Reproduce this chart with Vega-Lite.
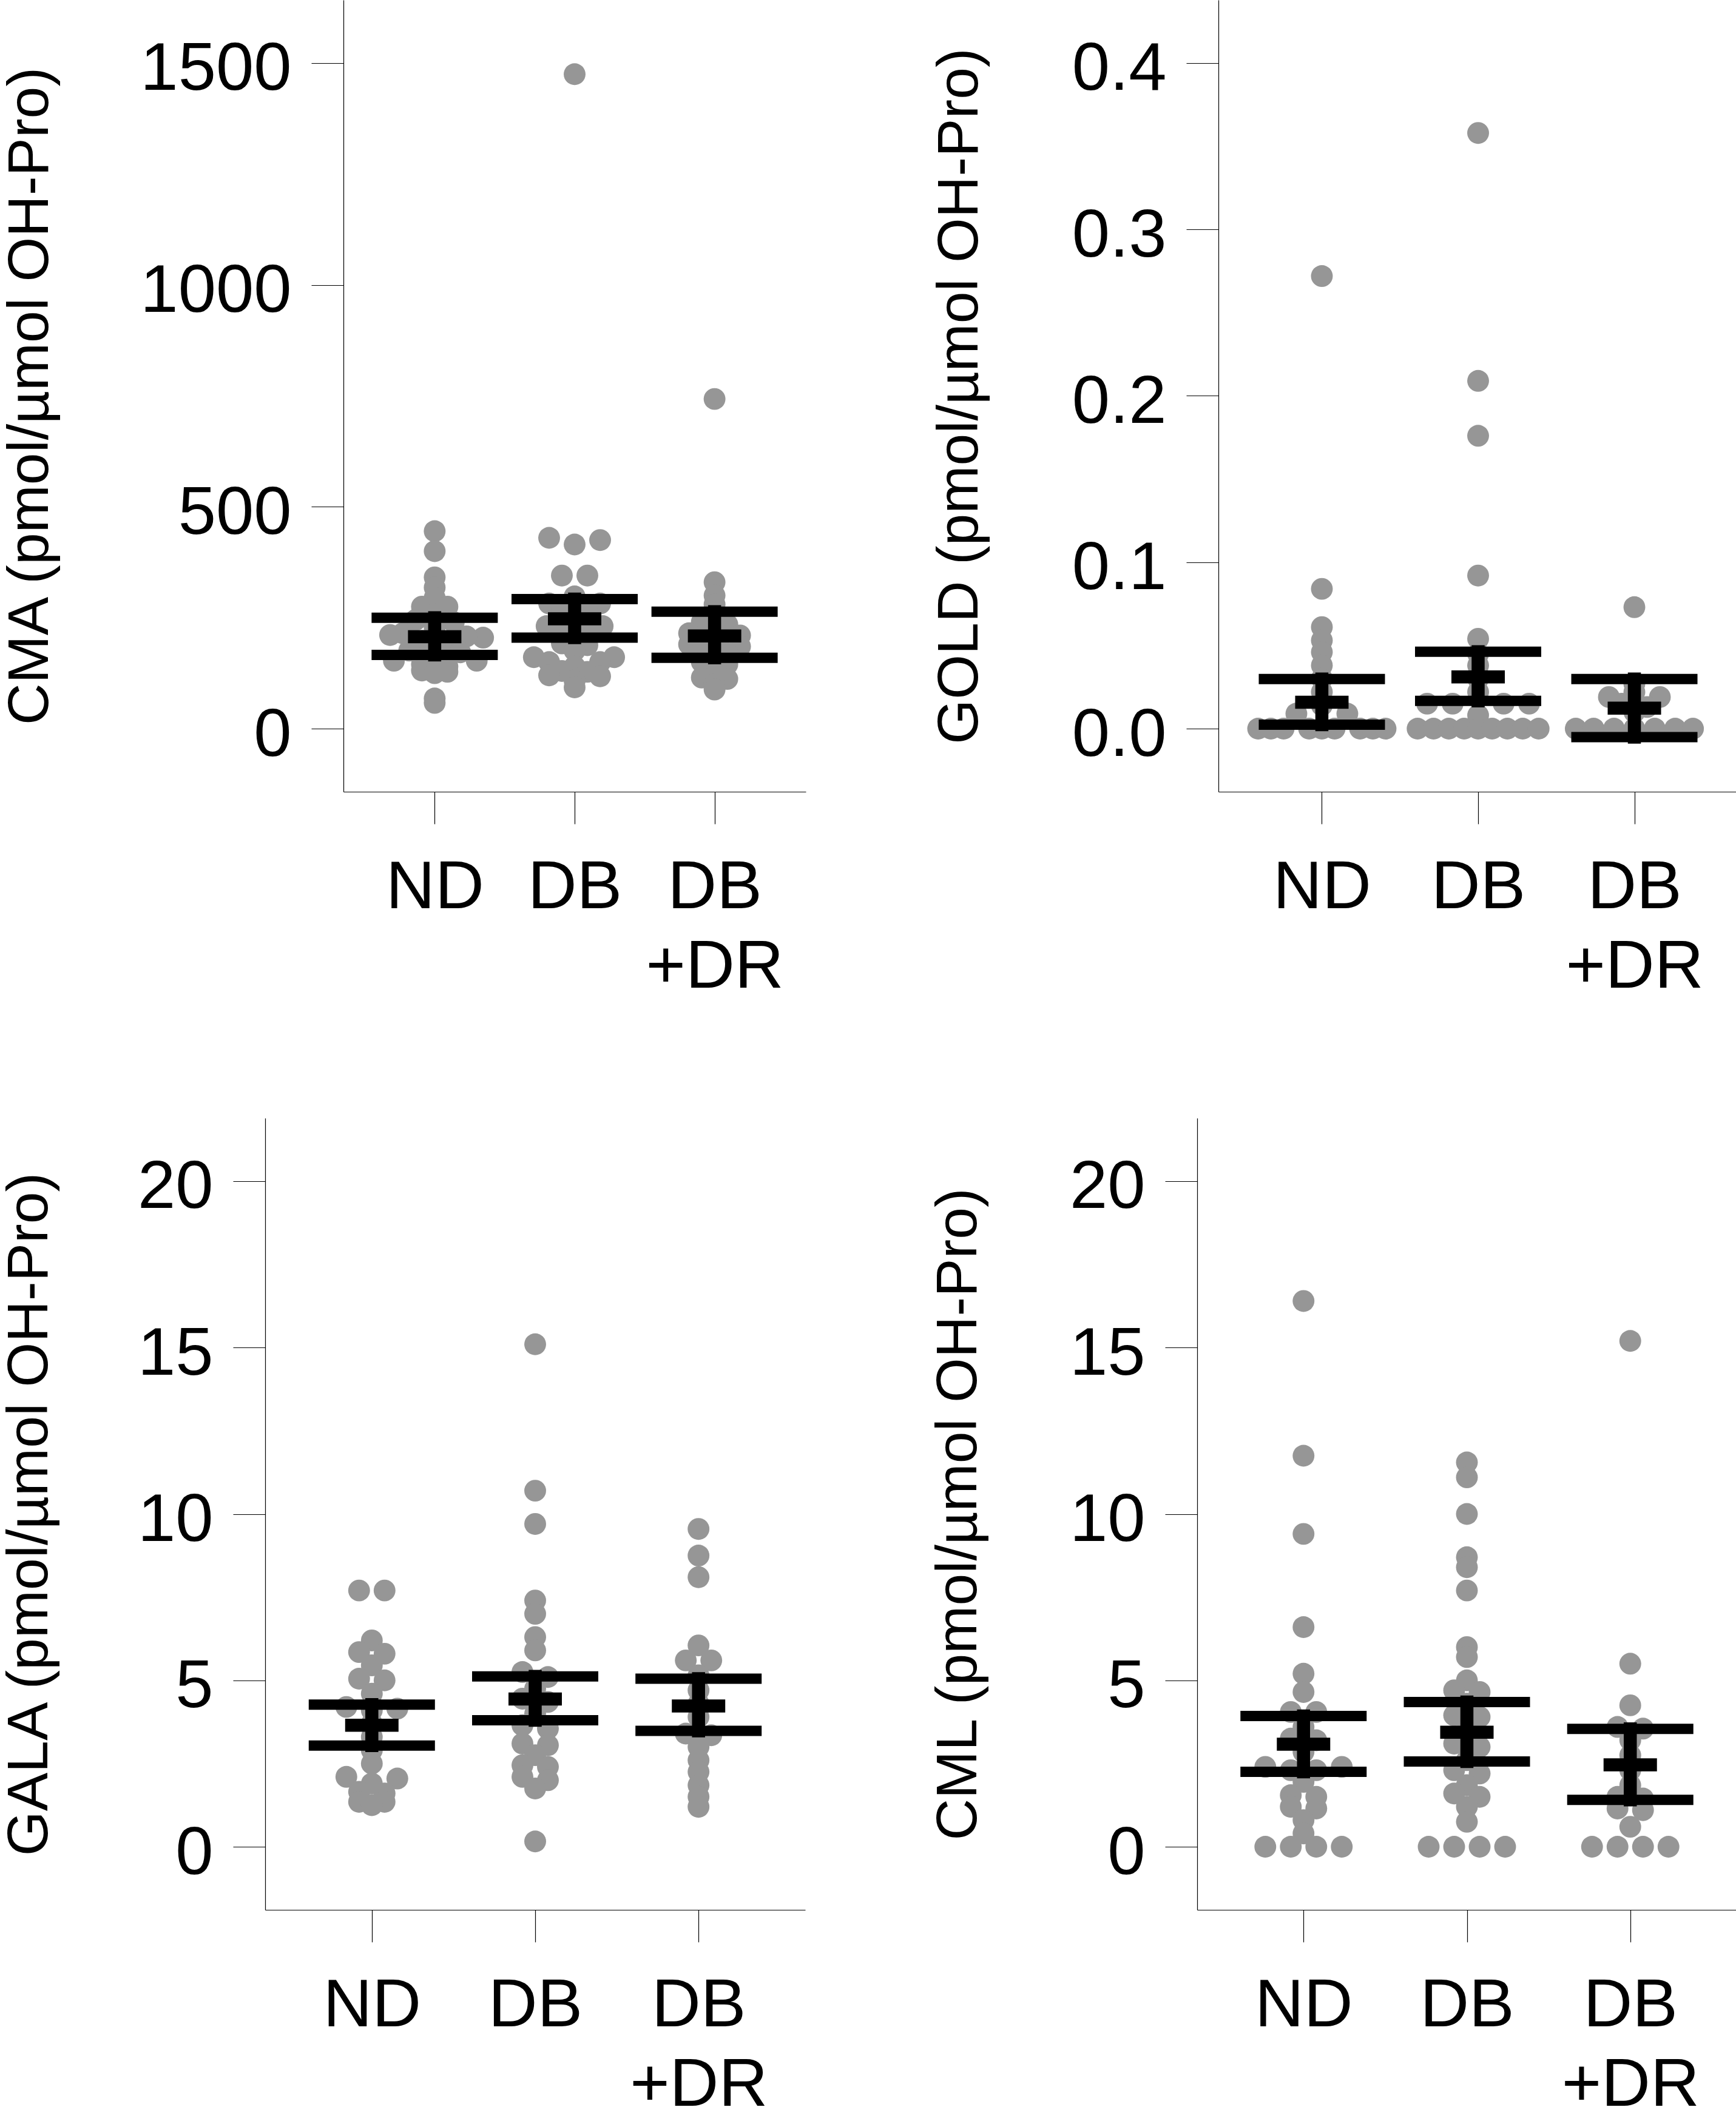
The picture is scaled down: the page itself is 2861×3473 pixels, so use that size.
{
  "$schema": "https://vega.github.io/schema/vega-lite/v6.json",
  "padding": 0,
  "background": "white",
  "config": {
    "font": "Liberation Sans",
    "view": {"stroke": null},
    "axis": {
      "grid": false,
      "domainColor": "black", "domainWidth": 1.2,
      "tickColor": "black", "tickWidth": 1.2, "tickSize": 53,
      "labelFont": "Liberation Sans", "labelFontSize": 112, "labelColor": "black",
      "labelLimit": 2000, "labelOverlap": false, "labelFlush": false, "labelBound": false,
      "titleFont": "Liberation Sans", "titleFontSize": 95, "titleFontWeight": "normal", "titleColor": "black", "titleLimit": 3000
    },
    "axisX": {"labelPadding": 50, "labelLineHeight": 131, "labelAngle": 0},
    "axisY": {"labelPadding": 33, "labelOffset": 10, "titleAngle": -90, "titleBaseline": "bottom", "titleAlign": "center", "titleY": 652.5}
  },
  "datasets": {
    "pts": [
      {"panel":"CMA","group":"ND","value":445,"slot":0},{"panel":"CMA","group":"ND","value":400,"slot":0},{"panel":"CMA","group":"ND","value":341,"slot":0},{"panel":"CMA","group":"ND","value":318,"slot":0},{"panel":"CMA","group":"ND","value":295,"slot":0},{"panel":"CMA","group":"ND","value":275,"slot":-1},{"panel":"CMA","group":"ND","value":275,"slot":1},{"panel":"CMA","group":"ND","value":258,"slot":0},{"panel":"CMA","group":"ND","value":245,"slot":-1.5},{"panel":"CMA","group":"ND","value":240,"slot":1.5},{"panel":"CMA","group":"ND","value":228,"slot":0},{"panel":"CMA","group":"ND","value":215,"slot":-2.5},{"panel":"CMA","group":"ND","value":211,"slot":-3.5},{"panel":"CMA","group":"ND","value":205,"slot":3.8},{"panel":"CMA","group":"ND","value":208,"slot":2.5},{"panel":"CMA","group":"ND","value":198,"slot":-1},{"panel":"CMA","group":"ND","value":195,"slot":1},{"panel":"CMA","group":"ND","value":185,"slot":0},{"panel":"CMA","group":"ND","value":176,"slot":-2},{"panel":"CMA","group":"ND","value":172,"slot":2},{"panel":"CMA","group":"ND","value":162,"slot":0},{"panel":"CMA","group":"ND","value":153,"slot":-3.2},{"panel":"CMA","group":"ND","value":153,"slot":3.3},{"panel":"CMA","group":"ND","value":145,"slot":-1},{"panel":"CMA","group":"ND","value":140,"slot":1},{"panel":"CMA","group":"ND","value":131,"slot":-1},{"panel":"CMA","group":"ND","value":128,"slot":1},{"panel":"CMA","group":"ND","value":125,"slot":0},{"panel":"CMA","group":"ND","value":68,"slot":0},{"panel":"CMA","group":"ND","value":58,"slot":0},
      {"panel":"CMA","group":"DB","value":1475,"slot":0},{"panel":"CMA","group":"DB","value":430,"slot":-2},{"panel":"CMA","group":"DB","value":425,"slot":2},{"panel":"CMA","group":"DB","value":415,"slot":0},{"panel":"CMA","group":"DB","value":345,"slot":-1},{"panel":"CMA","group":"DB","value":345,"slot":1},{"panel":"CMA","group":"DB","value":298,"slot":0},{"panel":"CMA","group":"DB","value":282,"slot":-2},{"panel":"CMA","group":"DB","value":282,"slot":2},{"panel":"CMA","group":"DB","value":265,"slot":-1},{"panel":"CMA","group":"DB","value":262,"slot":1},{"panel":"CMA","group":"DB","value":248,"slot":0},{"panel":"CMA","group":"DB","value":231,"slot":-2.2},{"panel":"CMA","group":"DB","value":231,"slot":2.2},{"panel":"CMA","group":"DB","value":222,"slot":-1},{"panel":"CMA","group":"DB","value":218,"slot":1},{"panel":"CMA","group":"DB","value":205,"slot":0},{"panel":"CMA","group":"DB","value":192,"slot":-1},{"panel":"CMA","group":"DB","value":188,"slot":1},{"panel":"CMA","group":"DB","value":176,"slot":0},{"panel":"CMA","group":"DB","value":161,"slot":-3.2},{"panel":"CMA","group":"DB","value":161,"slot":3.1},{"panel":"CMA","group":"DB","value":150,"slot":-2},{"panel":"CMA","group":"DB","value":150,"slot":2},{"panel":"CMA","group":"DB","value":140,"slot":0},{"panel":"CMA","group":"DB","value":130,"slot":-1},{"panel":"CMA","group":"DB","value":128,"slot":1},{"panel":"CMA","group":"DB","value":120,"slot":-2},{"panel":"CMA","group":"DB","value":118,"slot":2},{"panel":"CMA","group":"DB","value":108,"slot":0},{"panel":"CMA","group":"DB","value":93,"slot":0},
      {"panel":"CMA","group":"DB+DR","value":743,"slot":0},{"panel":"CMA","group":"DB+DR","value":330,"slot":0},{"panel":"CMA","group":"DB+DR","value":300,"slot":0},{"panel":"CMA","group":"DB+DR","value":280,"slot":0},{"panel":"CMA","group":"DB+DR","value":262,"slot":0},{"panel":"CMA","group":"DB+DR","value":240,"slot":-1},{"panel":"CMA","group":"DB+DR","value":235,"slot":1},{"panel":"CMA","group":"DB+DR","value":215,"slot":-2},{"panel":"CMA","group":"DB+DR","value":210,"slot":2},{"panel":"CMA","group":"DB+DR","value":200,"slot":0},{"panel":"CMA","group":"DB+DR","value":190,"slot":-2},{"panel":"CMA","group":"DB+DR","value":185,"slot":2},{"panel":"CMA","group":"DB+DR","value":175,"slot":-1},{"panel":"CMA","group":"DB+DR","value":170,"slot":1},{"panel":"CMA","group":"DB+DR","value":160,"slot":0},{"panel":"CMA","group":"DB+DR","value":150,"slot":-1},{"panel":"CMA","group":"DB+DR","value":145,"slot":1},{"panel":"CMA","group":"DB+DR","value":130,"slot":0},{"panel":"CMA","group":"DB+DR","value":115,"slot":-1},{"panel":"CMA","group":"DB+DR","value":112,"slot":1},{"panel":"CMA","group":"DB+DR","value":100,"slot":0},{"panel":"CMA","group":"DB+DR","value":88,"slot":0},
      {"panel":"GOLD","group":"ND","value":0.272,"slot":0},{"panel":"GOLD","group":"ND","value":0.084,"slot":0},{"panel":"GOLD","group":"ND","value":0.061,"slot":0},{"panel":"GOLD","group":"ND","value":0.053,"slot":0},{"panel":"GOLD","group":"ND","value":0.046,"slot":0},{"panel":"GOLD","group":"ND","value":0.038,"slot":0},{"panel":"GOLD","group":"ND","value":0.030,"slot":0},{"panel":"GOLD","group":"ND","value":0.022,"slot":0},{"panel":"GOLD","group":"ND","value":0.014,"slot":0},{"panel":"GOLD","group":"ND","value":0.009,"slot":-2},{"panel":"GOLD","group":"ND","value":0.009,"slot":2},{"panel":"GOLD","group":"ND","value":0,"slot":-5},{"panel":"GOLD","group":"ND","value":0,"slot":-4},{"panel":"GOLD","group":"ND","value":0,"slot":-3},{"panel":"GOLD","group":"ND","value":0,"slot":-1},{"panel":"GOLD","group":"ND","value":0,"slot":0},{"panel":"GOLD","group":"ND","value":0,"slot":1},{"panel":"GOLD","group":"ND","value":0,"slot":3},{"panel":"GOLD","group":"ND","value":0,"slot":4},{"panel":"GOLD","group":"ND","value":0,"slot":5},
      {"panel":"GOLD","group":"DB","value":0.358,"slot":0},{"panel":"GOLD","group":"DB","value":0.209,"slot":0},{"panel":"GOLD","group":"DB","value":0.176,"slot":0},{"panel":"GOLD","group":"DB","value":0.092,"slot":0},{"panel":"GOLD","group":"DB","value":0.054,"slot":0},{"panel":"GOLD","group":"DB","value":0.045,"slot":0},{"panel":"GOLD","group":"DB","value":0.038,"slot":0},{"panel":"GOLD","group":"DB","value":0.030,"slot":0},{"panel":"GOLD","group":"DB","value":0.022,"slot":0},{"panel":"GOLD","group":"DB","value":0.015,"slot":-4},{"panel":"GOLD","group":"DB","value":0.015,"slot":-2},{"panel":"GOLD","group":"DB","value":0.015,"slot":2},{"panel":"GOLD","group":"DB","value":0.015,"slot":4},{"panel":"GOLD","group":"DB","value":0.008,"slot":0},{"panel":"GOLD","group":"DB","value":0,"slot":-4.75},{"panel":"GOLD","group":"DB","value":0,"slot":-3.5},{"panel":"GOLD","group":"DB","value":0,"slot":-2.3},{"panel":"GOLD","group":"DB","value":0,"slot":-1.1},{"panel":"GOLD","group":"DB","value":0,"slot":0},{"panel":"GOLD","group":"DB","value":0,"slot":1.1},{"panel":"GOLD","group":"DB","value":0,"slot":2.3},{"panel":"GOLD","group":"DB","value":0,"slot":3.5},{"panel":"GOLD","group":"DB","value":0,"slot":4.75},
      {"panel":"GOLD","group":"DB+DR","value":0.073,"slot":0},{"panel":"GOLD","group":"DB+DR","value":0.027,"slot":0},{"panel":"GOLD","group":"DB+DR","value":0.022,"slot":0},{"panel":"GOLD","group":"DB+DR","value":0.019,"slot":-2},{"panel":"GOLD","group":"DB+DR","value":0.019,"slot":2},{"panel":"GOLD","group":"DB+DR","value":0.015,"slot":-1},{"panel":"GOLD","group":"DB+DR","value":0.013,"slot":1},{"panel":"GOLD","group":"DB+DR","value":0.010,"slot":0},{"panel":"GOLD","group":"DB+DR","value":0,"slot":-4.6},{"panel":"GOLD","group":"DB+DR","value":0,"slot":-3.2},{"panel":"GOLD","group":"DB+DR","value":0,"slot":-1.6},{"panel":"GOLD","group":"DB+DR","value":0,"slot":0},{"panel":"GOLD","group":"DB+DR","value":0,"slot":1.6},{"panel":"GOLD","group":"DB+DR","value":0,"slot":3.2},{"panel":"GOLD","group":"DB+DR","value":0,"slot":4.6},
      {"panel":"GALA","group":"ND","value":7.7,"slot":-1},{"panel":"GALA","group":"ND","value":7.7,"slot":1},{"panel":"GALA","group":"ND","value":6.2,"slot":0},{"panel":"GALA","group":"ND","value":5.85,"slot":-1},{"panel":"GALA","group":"ND","value":5.8,"slot":1},{"panel":"GALA","group":"ND","value":5.45,"slot":0},{"panel":"GALA","group":"ND","value":5.05,"slot":-1},{"panel":"GALA","group":"ND","value":5.0,"slot":1},{"panel":"GALA","group":"ND","value":4.6,"slot":0},{"panel":"GALA","group":"ND","value":4.2,"slot":-2},{"panel":"GALA","group":"ND","value":4.15,"slot":2},{"panel":"GALA","group":"ND","value":4.1,"slot":0},{"panel":"GALA","group":"ND","value":3.7,"slot":0},{"panel":"GALA","group":"ND","value":3.3,"slot":0},{"panel":"GALA","group":"ND","value":2.9,"slot":0},{"panel":"GALA","group":"ND","value":2.5,"slot":0},{"panel":"GALA","group":"ND","value":2.1,"slot":-2},{"panel":"GALA","group":"ND","value":2.05,"slot":2},{"panel":"GALA","group":"ND","value":1.9,"slot":0},{"panel":"GALA","group":"ND","value":1.65,"slot":-1},{"panel":"GALA","group":"ND","value":1.6,"slot":1},{"panel":"GALA","group":"ND","value":1.35,"slot":-1},{"panel":"GALA","group":"ND","value":1.35,"slot":1},{"panel":"GALA","group":"ND","value":1.25,"slot":0},
      {"panel":"GALA","group":"DB","value":15.1,"slot":0},{"panel":"GALA","group":"DB","value":10.7,"slot":0},{"panel":"GALA","group":"DB","value":9.7,"slot":0},{"panel":"GALA","group":"DB","value":7.4,"slot":0},{"panel":"GALA","group":"DB","value":7.0,"slot":0},{"panel":"GALA","group":"DB","value":6.3,"slot":0},{"panel":"GALA","group":"DB","value":5.9,"slot":0},{"panel":"GALA","group":"DB","value":5.25,"slot":-1},{"panel":"GALA","group":"DB","value":5.1,"slot":1},{"panel":"GALA","group":"DB","value":4.75,"slot":0},{"panel":"GALA","group":"DB","value":4.45,"slot":-1},{"panel":"GALA","group":"DB","value":4.35,"slot":1},{"panel":"GALA","group":"DB","value":4.0,"slot":0},{"panel":"GALA","group":"DB","value":3.65,"slot":-1},{"panel":"GALA","group":"DB","value":3.55,"slot":1},{"panel":"GALA","group":"DB","value":3.1,"slot":-1},{"panel":"GALA","group":"DB","value":3.05,"slot":1},{"panel":"GALA","group":"DB","value":2.75,"slot":0},{"panel":"GALA","group":"DB","value":2.45,"slot":-1},{"panel":"GALA","group":"DB","value":2.4,"slot":1},{"panel":"GALA","group":"DB","value":2.1,"slot":-1},{"panel":"GALA","group":"DB","value":2.0,"slot":1},{"panel":"GALA","group":"DB","value":1.75,"slot":0},{"panel":"GALA","group":"DB","value":0.16,"slot":0},
      {"panel":"GALA","group":"DB+DR","value":9.55,"slot":0},{"panel":"GALA","group":"DB+DR","value":8.75,"slot":0},{"panel":"GALA","group":"DB+DR","value":8.1,"slot":0},{"panel":"GALA","group":"DB+DR","value":6.05,"slot":0},{"panel":"GALA","group":"DB+DR","value":5.6,"slot":-1},{"panel":"GALA","group":"DB+DR","value":5.6,"slot":1},{"panel":"GALA","group":"DB+DR","value":5.15,"slot":0},{"panel":"GALA","group":"DB+DR","value":4.7,"slot":0},{"panel":"GALA","group":"DB+DR","value":4.3,"slot":0},{"panel":"GALA","group":"DB+DR","value":3.9,"slot":0},{"panel":"GALA","group":"DB+DR","value":3.4,"slot":-1},{"panel":"GALA","group":"DB+DR","value":3.35,"slot":1},{"panel":"GALA","group":"DB+DR","value":3.0,"slot":0},{"panel":"GALA","group":"DB+DR","value":2.6,"slot":0},{"panel":"GALA","group":"DB+DR","value":2.25,"slot":0},{"panel":"GALA","group":"DB+DR","value":1.85,"slot":0},{"panel":"GALA","group":"DB+DR","value":1.5,"slot":0},{"panel":"GALA","group":"DB+DR","value":1.2,"slot":0},
      {"panel":"CML","group":"ND","value":16.4,"slot":0},{"panel":"CML","group":"ND","value":11.75,"slot":0},{"panel":"CML","group":"ND","value":9.4,"slot":0},{"panel":"CML","group":"ND","value":6.6,"slot":0},{"panel":"CML","group":"ND","value":5.2,"slot":0},{"panel":"CML","group":"ND","value":4.65,"slot":0},{"panel":"CML","group":"ND","value":4.05,"slot":-1},{"panel":"CML","group":"ND","value":4.05,"slot":1},{"panel":"CML","group":"ND","value":3.6,"slot":0},{"panel":"CML","group":"ND","value":3.25,"slot":-1},{"panel":"CML","group":"ND","value":3.2,"slot":1},{"panel":"CML","group":"ND","value":2.85,"slot":0},{"panel":"CML","group":"ND","value":2.4,"slot":-3},{"panel":"CML","group":"ND","value":2.4,"slot":3},{"panel":"CML","group":"ND","value":2.3,"slot":-1},{"panel":"CML","group":"ND","value":2.3,"slot":1},{"panel":"CML","group":"ND","value":1.95,"slot":0},{"panel":"CML","group":"ND","value":1.55,"slot":-1},{"panel":"CML","group":"ND","value":1.5,"slot":1},{"panel":"CML","group":"ND","value":1.2,"slot":-1},{"panel":"CML","group":"ND","value":1.15,"slot":1},{"panel":"CML","group":"ND","value":0.8,"slot":0},{"panel":"CML","group":"ND","value":0.4,"slot":0},{"panel":"CML","group":"ND","value":0,"slot":-3},{"panel":"CML","group":"ND","value":0,"slot":-1},{"panel":"CML","group":"ND","value":0,"slot":1},{"panel":"CML","group":"ND","value":0,"slot":3},
      {"panel":"CML","group":"DB","value":11.55,"slot":0},{"panel":"CML","group":"DB","value":11.1,"slot":0},{"panel":"CML","group":"DB","value":10.0,"slot":0},{"panel":"CML","group":"DB","value":8.7,"slot":0},{"panel":"CML","group":"DB","value":8.4,"slot":0},{"panel":"CML","group":"DB","value":7.7,"slot":0},{"panel":"CML","group":"DB","value":6.0,"slot":0},{"panel":"CML","group":"DB","value":5.7,"slot":0},{"panel":"CML","group":"DB","value":5.0,"slot":0},{"panel":"CML","group":"DB","value":4.7,"slot":-1},{"panel":"CML","group":"DB","value":4.65,"slot":1},{"panel":"CML","group":"DB","value":4.3,"slot":0},{"panel":"CML","group":"DB","value":3.95,"slot":-1},{"panel":"CML","group":"DB","value":3.9,"slot":1},{"panel":"CML","group":"DB","value":3.5,"slot":0},{"panel":"CML","group":"DB","value":3.1,"slot":-1},{"panel":"CML","group":"DB","value":3.0,"slot":1},{"panel":"CML","group":"DB","value":2.6,"slot":0},{"panel":"CML","group":"DB","value":2.3,"slot":-1},{"panel":"CML","group":"DB","value":2.2,"slot":1},{"panel":"CML","group":"DB","value":1.85,"slot":0},{"panel":"CML","group":"DB","value":1.6,"slot":-1},{"panel":"CML","group":"DB","value":1.5,"slot":1},{"panel":"CML","group":"DB","value":1.2,"slot":0},{"panel":"CML","group":"DB","value":0.75,"slot":0},{"panel":"CML","group":"DB","value":0,"slot":-3},{"panel":"CML","group":"DB","value":0,"slot":-1},{"panel":"CML","group":"DB","value":0,"slot":1},{"panel":"CML","group":"DB","value":0,"slot":3},
      {"panel":"CML","group":"DB+DR","value":15.2,"slot":0},{"panel":"CML","group":"DB+DR","value":5.5,"slot":0},{"panel":"CML","group":"DB+DR","value":4.25,"slot":0},{"panel":"CML","group":"DB+DR","value":3.6,"slot":-1},{"panel":"CML","group":"DB+DR","value":3.55,"slot":1},{"panel":"CML","group":"DB+DR","value":3.2,"slot":0},{"panel":"CML","group":"DB+DR","value":2.75,"slot":0},{"panel":"CML","group":"DB+DR","value":2.3,"slot":0},{"panel":"CML","group":"DB+DR","value":1.85,"slot":0},{"panel":"CML","group":"DB+DR","value":1.5,"slot":-1},{"panel":"CML","group":"DB+DR","value":1.45,"slot":1},{"panel":"CML","group":"DB+DR","value":1.15,"slot":-1},{"panel":"CML","group":"DB+DR","value":1.1,"slot":1},{"panel":"CML","group":"DB+DR","value":0.6,"slot":0},{"panel":"CML","group":"DB+DR","value":0,"slot":-3},{"panel":"CML","group":"DB+DR","value":0,"slot":-1},{"panel":"CML","group":"DB+DR","value":0,"slot":1},{"panel":"CML","group":"DB+DR","value":0,"slot":3}
    ],
    "bars": [
      {"panel":"CMA","group":"ND","lower":166,"mean":207,"upper":250},
      {"panel":"CMA","group":"DB","lower":205,"mean":247.5,"upper":292},
      {"panel":"CMA","group":"DB+DR","lower":159.5,"mean":209,"upper":263.5},
      {"panel":"GOLD","group":"ND","lower":0.0024,"mean":0.0159,"upper":0.0298},
      {"panel":"GOLD","group":"DB","lower":0.0167,"mean":0.0311,"upper":0.0462},
      {"panel":"GOLD","group":"DB+DR","lower":-0.0051,"mean":0.0123,"upper":0.0298},
      {"panel":"GALA","group":"ND","lower":3.04,"mean":3.65,"upper":4.27},
      {"panel":"GALA","group":"DB","lower":3.80,"mean":4.44,"upper":5.12},
      {"panel":"GALA","group":"DB+DR","lower":3.48,"mean":4.23,"upper":5.05},
      {"panel":"CML","group":"ND","lower":2.25,"mean":3.08,"upper":3.93},
      {"panel":"CML","group":"DB","lower":2.56,"mean":3.44,"upper":4.35},
      {"panel":"CML","group":"DB+DR","lower":1.41,"mean":2.46,"upper":3.54}
    ]
  },
  "spacing": 194,
  "vconcat": [
    {
      "spacing": 0,
      "hconcat": [
        {"width": 1, "height": 1, "data": {"values": []}, "mark": "point"},
        {
          "spacing": 205,
          "hconcat": [
            {
              "width": 762, "height": 1305,
              "layer": [
                {"data": {"name": "pts"}, "transform": [{"filter": "datum.panel === 'CMA'"}],
                 "mark": {"type": "circle", "size": 1290, "color": "#969696", "opacity": 1},
                 "encoding": {
                   "x": {"field": "group", "type": "nominal", "title": null, "scale": {"type": "point", "domain": ["ND","DB","DB+DR"], "padding": 0.652},
                         "axis": {"labelExpr": "datum.value == 'DB+DR' ? ['DB','+DR'] : datum.value"}},
                   "xOffset": {"field": "slot", "type": "quantitative", "scale": {"domain": [-5,5], "range": [-105,105]}},
                   "y": {"field": "value", "type": "quantitative", "title": "CMA (pmol/µmol OH-Pro)", "scale": {"domain": [-142.2, 1642.2], "nice": false, "zero": false}, "axis": {"values": [0,500,1000,1500], "format": "d", "titleX": -468}}
                 }},
                {"data": {"name": "bars"}, "transform": [{"filter": "datum.panel === 'CMA'"}],
                 "mark": {"type": "rule", "strokeWidth": 21.5, "color": "black", "strokeCap": "square"},
                 "encoding": {"x": {"field": "group", "type": "nominal", "title": null}, "y": {"field": "lower", "type": "quantitative", "title": "CMA (pmol/µmol OH-Pro)"}, "y2": {"field": "upper"}}},
                {"data": {"name": "bars"}, "transform": [{"filter": "datum.panel === 'CMA'"}],
                 "mark": {"type": "tick", "orient": "horizontal", "size": 208, "thickness": 17, "color": "black", "opacity": 1},
                 "encoding": {"x": {"field": "group", "type": "nominal", "title": null}, "y": {"field": "lower", "type": "quantitative", "title": "CMA (pmol/µmol OH-Pro)"}}},
                {"data": {"name": "bars"}, "transform": [{"filter": "datum.panel === 'CMA'"}],
                 "mark": {"type": "tick", "orient": "horizontal", "size": 208, "thickness": 17, "color": "black", "opacity": 1},
                 "encoding": {"x": {"field": "group", "type": "nominal", "title": null}, "y": {"field": "upper", "type": "quantitative", "title": "CMA (pmol/µmol OH-Pro)"}}},
                {"data": {"name": "bars"}, "transform": [{"filter": "datum.panel === 'CMA'"}],
                 "mark": {"type": "tick", "orient": "horizontal", "size": 88, "thickness": 21.5, "color": "black", "opacity": 1},
                 "encoding": {"x": {"field": "group", "type": "nominal", "title": null}, "y": {"field": "mean", "type": "quantitative", "title": "CMA (pmol/µmol OH-Pro)"}}}
              ]
            },
            {
              "width": 856, "height": 1305,
              "layer": [
                {"data": {"name": "pts"}, "transform": [{"filter": "datum.panel === 'GOLD'"}],
                 "mark": {"type": "circle", "size": 1290, "color": "#969696", "opacity": 1},
                 "encoding": {
                   "x": {"field": "group", "type": "nominal", "title": null, "scale": {"type": "point", "domain": ["ND","DB","DB+DR"], "padding": 0.662},
                         "axis": {"labelExpr": "datum.value == 'DB+DR' ? ['DB','+DR'] : datum.value"}},
                   "xOffset": {"field": "slot", "type": "quantitative", "scale": {"domain": [-5,5], "range": [-105,105]}},
                   "y": {"field": "value", "type": "quantitative", "title": "GOLD (pmol/µmol OH-Pro)", "scale": {"domain": [-0.03792, 0.43792], "nice": false, "zero": false}, "axis": {"values": [0,0.1,0.2,0.3,0.4], "format": ".1f", "titleX": -378}}
                 }},
                {"data": {"name": "bars"}, "transform": [{"filter": "datum.panel === 'GOLD'"}],
                 "mark": {"type": "rule", "strokeWidth": 21.5, "color": "black", "strokeCap": "square"},
                 "encoding": {"x": {"field": "group", "type": "nominal", "title": null}, "y": {"field": "lower", "type": "quantitative", "title": "GOLD (pmol/µmol OH-Pro)"}, "y2": {"field": "upper"}}},
                {"data": {"name": "bars"}, "transform": [{"filter": "datum.panel === 'GOLD'"}],
                 "mark": {"type": "tick", "orient": "horizontal", "size": 208, "thickness": 17, "color": "black", "opacity": 1},
                 "encoding": {"x": {"field": "group", "type": "nominal", "title": null}, "y": {"field": "lower", "type": "quantitative", "title": "GOLD (pmol/µmol OH-Pro)"}}},
                {"data": {"name": "bars"}, "transform": [{"filter": "datum.panel === 'GOLD'"}],
                 "mark": {"type": "tick", "orient": "horizontal", "size": 208, "thickness": 17, "color": "black", "opacity": 1},
                 "encoding": {"x": {"field": "group", "type": "nominal", "title": null}, "y": {"field": "upper", "type": "quantitative", "title": "GOLD (pmol/µmol OH-Pro)"}}},
                {"data": {"name": "bars"}, "transform": [{"filter": "datum.panel === 'GOLD'"}],
                 "mark": {"type": "tick", "orient": "horizontal", "size": 88, "thickness": 21.5, "color": "black", "opacity": 1},
                 "encoding": {"x": {"field": "group", "type": "nominal", "title": null}, "y": {"field": "mean", "type": "quantitative", "title": "GOLD (pmol/µmol OH-Pro)"}}}
              ]
            }
          ]
        }
      ]
    },
    {
      "spacing": 0,
      "hconcat": [
        {"width": 1, "height": 1, "data": {"values": []}, "mark": "point"},
        {
          "spacing": 205,
          "hconcat": [
            {
              "width": 890, "height": 1305,
              "layer": [
                {"data": {"name": "pts"}, "transform": [{"filter": "datum.panel === 'GALA'"}],
                 "mark": {"type": "circle", "size": 1290, "color": "#969696", "opacity": 1},
                 "encoding": {
                   "x": {"field": "group", "type": "nominal", "title": null, "scale": {"type": "point", "domain": ["ND","DB","DB+DR"], "padding": 0.653},
                         "axis": {"labelExpr": "datum.value == 'DB+DR' ? ['DB','+DR'] : datum.value"}},
                   "xOffset": {"field": "slot", "type": "quantitative", "scale": {"domain": [-5,5], "range": [-105,105]}},
                   "y": {"field": "value", "type": "quantitative", "title": "GALA (pmol/µmol OH-Pro)", "scale": {"domain": [-1.896, 21.896], "nice": false, "zero": false}, "axis": {"values": [0,5,10,15,20], "titleX": -340}}
                 }},
                {"data": {"name": "bars"}, "transform": [{"filter": "datum.panel === 'GALA'"}],
                 "mark": {"type": "rule", "strokeWidth": 21.5, "color": "black", "strokeCap": "square"},
                 "encoding": {"x": {"field": "group", "type": "nominal", "title": null}, "y": {"field": "lower", "type": "quantitative", "title": "GALA (pmol/µmol OH-Pro)"}, "y2": {"field": "upper"}}},
                {"data": {"name": "bars"}, "transform": [{"filter": "datum.panel === 'GALA'"}],
                 "mark": {"type": "tick", "orient": "horizontal", "size": 208, "thickness": 17, "color": "black", "opacity": 1},
                 "encoding": {"x": {"field": "group", "type": "nominal", "title": null}, "y": {"field": "lower", "type": "quantitative", "title": "GALA (pmol/µmol OH-Pro)"}}},
                {"data": {"name": "bars"}, "transform": [{"filter": "datum.panel === 'GALA'"}],
                 "mark": {"type": "tick", "orient": "horizontal", "size": 208, "thickness": 17, "color": "black", "opacity": 1},
                 "encoding": {"x": {"field": "group", "type": "nominal", "title": null}, "y": {"field": "upper", "type": "quantitative", "title": "GALA (pmol/µmol OH-Pro)"}}},
                {"data": {"name": "bars"}, "transform": [{"filter": "datum.panel === 'GALA'"}],
                 "mark": {"type": "tick", "orient": "horizontal", "size": 88, "thickness": 21.5, "color": "black", "opacity": 1},
                 "encoding": {"x": {"field": "group", "type": "nominal", "title": null}, "y": {"field": "mean", "type": "quantitative", "title": "GALA (pmol/µmol OH-Pro)"}}}
              ]
            },
            {
              "width": 889, "height": 1305,
              "layer": [
                {"data": {"name": "pts"}, "transform": [{"filter": "datum.panel === 'CML'"}],
                 "mark": {"type": "circle", "size": 1290, "color": "#969696", "opacity": 1},
                 "encoding": {
                   "x": {"field": "group", "type": "nominal", "title": null, "scale": {"type": "point", "domain": ["ND","DB","DB+DR"], "padding": 0.651},
                         "axis": {"labelExpr": "datum.value == 'DB+DR' ? ['DB','+DR'] : datum.value"}},
                   "xOffset": {"field": "slot", "type": "quantitative", "scale": {"domain": [-5,5], "range": [-105,105]}},
                   "y": {"field": "value", "type": "quantitative", "title": "CML (pmol/µmol OH-Pro)", "scale": {"domain": [-1.896, 21.896], "nice": false, "zero": false}, "axis": {"values": [0,5,10,15,20], "titleX": -345}}
                 }},
                {"data": {"name": "bars"}, "transform": [{"filter": "datum.panel === 'CML'"}],
                 "mark": {"type": "rule", "strokeWidth": 21.5, "color": "black", "strokeCap": "square"},
                 "encoding": {"x": {"field": "group", "type": "nominal", "title": null}, "y": {"field": "lower", "type": "quantitative", "title": "CML (pmol/µmol OH-Pro)"}, "y2": {"field": "upper"}}},
                {"data": {"name": "bars"}, "transform": [{"filter": "datum.panel === 'CML'"}],
                 "mark": {"type": "tick", "orient": "horizontal", "size": 208, "thickness": 17, "color": "black", "opacity": 1},
                 "encoding": {"x": {"field": "group", "type": "nominal", "title": null}, "y": {"field": "lower", "type": "quantitative", "title": "CML (pmol/µmol OH-Pro)"}}},
                {"data": {"name": "bars"}, "transform": [{"filter": "datum.panel === 'CML'"}],
                 "mark": {"type": "tick", "orient": "horizontal", "size": 208, "thickness": 17, "color": "black", "opacity": 1},
                 "encoding": {"x": {"field": "group", "type": "nominal", "title": null}, "y": {"field": "upper", "type": "quantitative", "title": "CML (pmol/µmol OH-Pro)"}}},
                {"data": {"name": "bars"}, "transform": [{"filter": "datum.panel === 'CML'"}],
                 "mark": {"type": "tick", "orient": "horizontal", "size": 88, "thickness": 21.5, "color": "black", "opacity": 1},
                 "encoding": {"x": {"field": "group", "type": "nominal", "title": null}, "y": {"field": "mean", "type": "quantitative", "title": "CML (pmol/µmol OH-Pro)"}}}
              ]
            }
          ]
        }
      ]
    }
  ]
}
